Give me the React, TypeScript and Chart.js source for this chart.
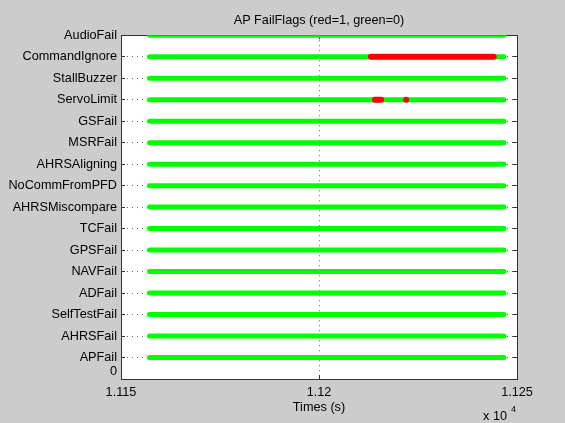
import React, { useEffect, useRef } from 'react';
import { Chart, registerables } from 'chart.js';

Chart.register(...registerables);

const FONT = '"Liberation Sans", Arial, Helvetica, sans-serif';
const FONT_SIZE = 12.7;

// Flag names, bottom (y = 1) to top (y = 16)
const flagNames = [
  'APFail', 'AHRSFail', 'SelfTestFail', 'ADFail', 'NAVFail', 'GPSFail', 'TCFail',
  'AHRSMiscompare', 'NoCommFromPFD', 'AHRSAligning', 'MSRFail', 'GSFail',
  'ServoLimit', 'StallBuzzer', 'CommandIgnore', 'AudioFail',
];
const yTickLabels = ['0', ...flagNames];
const xTickValues = [11150, 11200, 11250];
const xTickLabels = ['1.115', '1.12', '1.125'];

// recorded time span (s); flag value 0 (green) over the whole record
const recordStart = 11157.2;
const recordEnd = 11246.7;

// time spans (s) where a flag was 1 (red)
const commandIgnoreRed = [[11213.1, 11244.1]];
const servoLimitRed = [[11214.1, 11215.7], [11222.0, 11222.2]];
const redSpans: Record<string, number[][]> = {
  CommandIgnore: commandIgnoreRed,
  ServoLimit: servoLimitRed,
};

const font = { family: FONT, size: FONT_SIZE, weight: 'normal' as const };

const plotBackground = {
  id: 'plotBackground',
  beforeDraw(chart: any) {
    const { ctx, chartArea } = chart;
    ctx.save();
    ctx.fillStyle = '#ffffff';
    ctx.fillRect(chartArea.left, chartArea.top, chartArea.right - chartArea.left, chartArea.bottom - chartArea.top);
    ctx.restore();
  },
};

const exponentLabel = {
  id: 'exponentLabel',
  afterDraw(chart: any) {
    const { ctx, chartArea, height } = chart;
    ctx.save();
    ctx.fillStyle = '#000';
    ctx.font = `${FONT_SIZE}px ${FONT}`;
    ctx.textAlign = 'right';
    ctx.textBaseline = 'alphabetic';
    ctx.fillText('x 10', chartArea.right - 10, height - 3);
    ctx.font = `9px ${FONT}`;
    ctx.textAlign = 'left';
    ctx.fillText('4', chartArea.right - 6, height - 11);
    ctx.restore();
  },
};

export default function App() {
  const canvasRef = useRef<HTMLCanvasElement>(null);

  useEffect(() => {
    if (!canvasRef.current) return;
    const common = {
      pointRadius: 0,
      borderCapStyle: 'round' as const,
      tension: 0,
      fill: false,
    };
    const red: any[] = [];
    flagNames.forEach((name, i) => {
      (redSpans[name] || []).forEach(([a, b]) => {
        red.push({
          ...common,
          label: name + ' = 1',
          data: [{ x: a, y: i + 1 }, { x: b, y: i + 1 }],
          borderColor: '#ff0000',
          borderWidth: 6,
        });
      });
    });
    const green = flagNames.map((name, i) => ({
      ...common,
      label: name,
      data: [{ x: recordStart, y: i + 1 }, { x: recordEnd, y: i + 1 }],
      borderColor: '#00ff00',
      borderWidth: 5,
    }));

    const yTicks = (s: any) => { s.ticks = yTickLabels.map((_, i) => ({ value: i })); };
    const xTicks = (s: any) => { s.ticks = xTickValues.map((v) => ({ value: v })); };

    const chart = new Chart(canvasRef.current, {
      type: 'line',
      data: { datasets: [...red, ...green] },
      plugins: [plotBackground, exponentLabel],
      options: {
        animation: false,
        responsive: false,
        maintainAspectRatio: false,
        devicePixelRatio: 1,
        events: [],
        layout: { padding: 0 },
        plugins: {
          legend: { display: false },
          tooltip: { enabled: false },
          title: {
            display: true,
            text: 'AP FailFlags (red=1, green=0)',
            position: 'top',
            fullSize: false,
            color: '#000',
            font,
            padding: { top: 13, bottom: 7 },
          },
        },
        scales: {
          x: {
            type: 'linear',
            position: 'bottom',
            min: 11150,
            max: 11250,
            afterBuildTicks: xTicks,
            ticks: {
              callback: (v: any) => xTickLabels[xTickValues.indexOf(Number(v))] ?? '',
              color: '#000',
              font,
              padding: 10,
              maxRotation: 0,
              autoSkip: false,
            },
            grid: { color: '#666', lineWidth: 1, tickLength: -4, tickColor: '#333', tickBorderDash: [] },
            border: { display: true, color: '#333', width: 1, dash: [1, 4] },
            title: { display: true, text: 'Times (s)', color: '#000', font, padding: { top: 0, bottom: 8 } },
            afterFit: (s: any) => { s.height = 44; },
          },
          x2: {
            type: 'linear',
            position: 'top',
            min: 11150,
            max: 11250,
            afterBuildTicks: xTicks,
            ticks: { display: false },
            grid: { drawOnChartArea: false, tickLength: -4, color: '#333' },
            border: { display: true, color: '#333', width: 1 },
            afterFit: (s: any) => { s.height = 0; },
          },
          y: {
            type: 'linear',
            position: 'left',
            min: 0,
            max: 16,
            afterBuildTicks: yTicks,
            ticks: {
              callback: (v: any) => (Number(v) === 0 ? ['0', ''] : yTickLabels[Number(v)]),
              color: '#000',
              font,
              padding: 8,
              autoSkip: false,
            },
            grid: { color: '#666', lineWidth: 1, tickLength: -4, tickColor: '#333', tickBorderDash: [] },
            border: { display: true, color: '#333', width: 1, dash: [1, 4] },
            afterFit: (s: any) => { s.width = 121; },
          },
          y2: {
            type: 'linear',
            position: 'right',
            min: 0,
            max: 16,
            afterBuildTicks: yTicks,
            ticks: { display: false },
            grid: { drawOnChartArea: false, tickLength: -4, color: '#333' },
            border: { display: true, color: '#333', width: 1 },
            afterFit: (s: any) => { s.width = 48; },
          },
        },
      } as any,
    });
    return () => chart.destroy();
  }, []);

  return (
    <div style={{ position: 'absolute', left: 0, top: 0, width: 565, height: 423, background: '#cccccc' }}>
      <canvas ref={canvasRef} width={565} height={423} style={{ display: 'block' }} />
    </div>
  );
}
